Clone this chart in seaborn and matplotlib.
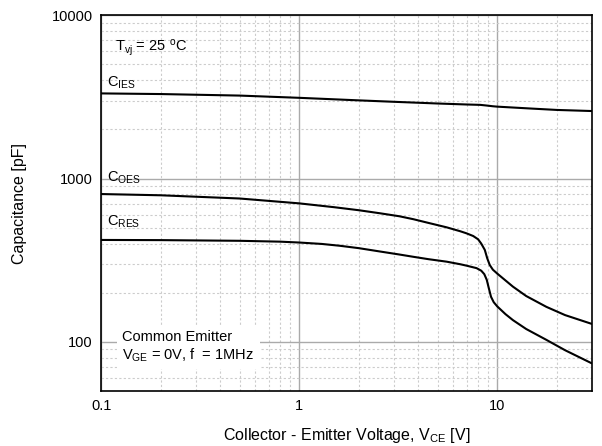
import pandas as pd
import numpy as np
import seaborn as sns
import matplotlib.pyplot as plt
from matplotlib.ticker import FixedLocator, FixedFormatter, NullFormatter

# values (V_CE in V, capacitance in pF)
v_ies = [0.1, 0.2, 0.5, 1.0, 2.0, 3.0, 5.0, 7.0, 8.2, 8.8, 9.5, 10.0, 15.0, 20.0, 30.0]
c_ies = [3320, 3290, 3220, 3120, 3010, 2950, 2880, 2840, 2825, 2800, 2770, 2755, 2680, 2630, 2590]

v_oes = [0.1, 0.2, 0.5, 1.0, 1.5, 2.0, 2.56, 3.2, 3.77, 4.5, 5.55, 6.5, 7.0, 7.56, 8.0, 8.3,
         8.65, 8.9, 9.16, 9.5, 10.0, 11.0, 12.0, 14.0, 17.7, 22.0, 30.0]
c_oes = [804, 790, 755, 705, 668, 640, 613, 588, 564, 535, 503, 476, 462, 445, 425, 400,
         366, 325, 296, 277, 262, 238, 218, 191, 164, 146, 129]

v_res = [0.1, 0.2, 0.5, 0.8, 1.0, 1.3, 1.6, 2.0, 2.55, 3.2, 3.77, 4.5, 5.55, 6.5, 7.0, 7.86,
         8.3, 8.6, 8.85, 9.05, 9.3, 9.6, 10.0, 11.0, 12.0, 14.0, 17.7, 22.0, 30.0]
c_res = [421, 420, 416, 411, 406, 398, 388, 375, 358, 343, 332, 321, 310, 299, 293, 283,
         273, 260, 240, 215, 189, 175, 165, 148, 136, 120, 103, 89, 74]

df = pd.concat([
    pd.DataFrame({'V': v_ies, 'C': c_ies, 'curve': 'CIES'}),
    pd.DataFrame({'V': v_oes, 'C': c_oes, 'curve': 'COES'}),
    pd.DataFrame({'V': v_res, 'C': c_res, 'curve': 'CRES'}),
])

sns.set_style('white')
plt.rcParams['font.family'] = ['Liberation Sans', 'DejaVu Sans']
plt.rcParams['mathtext.fontset'] = 'custom'
plt.rcParams['mathtext.rm'] = 'Liberation Sans'
plt.rcParams['mathtext.it'] = 'Liberation Sans'
plt.rcParams['text.color'] = 'black'
plt.rcParams['axes.labelcolor'] = 'black'
plt.rcParams['xtick.color'] = 'black'
plt.rcParams['ytick.color'] = 'black'

fig = plt.figure(figsize=(6.02, 4.46), dpi=100)
ax = fig.add_axes([0.168, 0.123, 0.815, 0.843])

ax.set_xscale('log')
ax.set_yscale('log')
ax.set_xlim(0.1, 30)
ax.set_ylim(50, 10000)

# grid first, so the curves sit on top
ax.xaxis.set_minor_locator(FixedLocator([k * 10.0 ** e for e in (-1, 0, 1) for k in range(2, 10)]))
ax.yaxis.set_minor_locator(FixedLocator([k * 10.0 ** e for e in (1, 2, 3) for k in range(2, 10)]))
ax.xaxis.set_major_locator(FixedLocator([0.1, 1, 10]))
ax.yaxis.set_major_locator(FixedLocator([100, 1000, 10000]))
ax.xaxis.set_major_formatter(FixedFormatter(['0.1', '1', '10']))
ax.yaxis.set_major_formatter(FixedFormatter(['100', '1000', '10000']))
ax.xaxis.set_minor_formatter(NullFormatter())
ax.yaxis.set_minor_formatter(NullFormatter())
ax.grid(True, which='major', color='#aaaaaa', lw=1.0, ls='-')
ax.grid(True, which='minor', color='#cccccc', lw=0.8, ls=(0, (2, 2)))
ax.set_axisbelow(True)

sns.lineplot(data=df, x='V', y='C', units='curve', estimator=None, color='black',
             lw=1.5, ax=ax, legend=False, sort=False)

ax.tick_params(which='both', length=0, labelsize=10.5, pad=6)
for s in ax.spines.values():
    s.set_color('black')
    s.set_linewidth(1.2)

ax.set_xlabel('Collector - Emitter Voltage, V$_{\\mathregular{CE}}$ [V]', fontsize=11.5, labelpad=9)
ax.set_ylabel('Capacitance [pF]', fontsize=11.5, labelpad=18)

ax.text(0.118, 6300, 'T$_{\\mathregular{vj}}$ = 25 $^{\\mathregular{o}}$C', fontsize=10.5, va='center')
ax.text(0.107, 3850, 'C$_{\\mathregular{IES}}$', fontsize=10.5, va='center')
ax.text(0.107, 1010, 'C$_{\\mathregular{OES}}$', fontsize=10.5, va='center')
ax.text(0.107, 540, 'C$_{\\mathregular{RES}}$', fontsize=10.5, va='center')
ax.text(0.128, 93, 'Common Emitter\nV$_{\\mathregular{GE}}$ = 0V, f  = 1MHz', fontsize=10.5,
        va='center', linespacing=1.15,
        bbox=dict(facecolor='white', edgecolor='none', pad=4))

fig.savefig('out.png', dpi=100)
